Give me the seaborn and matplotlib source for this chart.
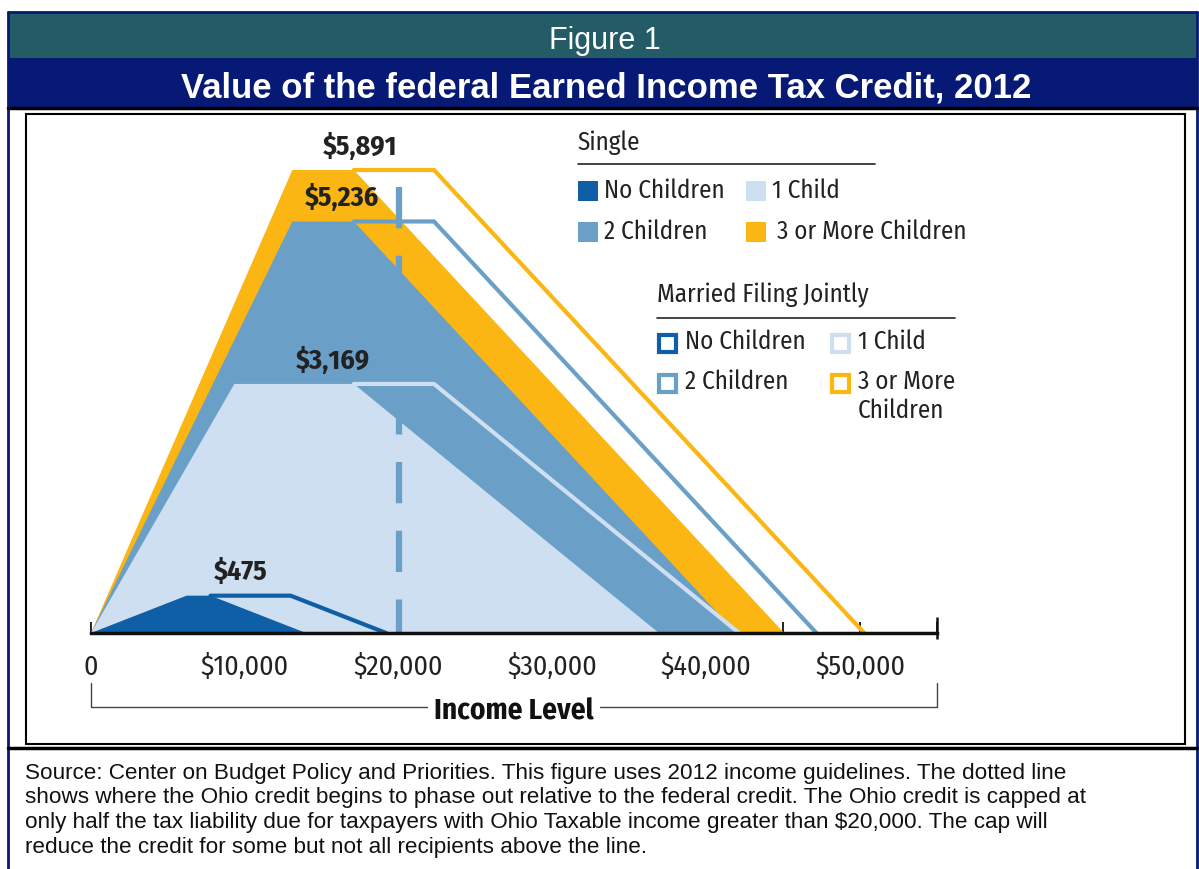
import pandas as pd
import matplotlib.pyplot as plt
from matplotlib.patches import Rectangle
import seaborn as sns

# federal EITC parameters, 2012
groups = ['No Children', '1 Child', '2 Children', '3 or More Children']
max_credit = [475, 3169, 5236, 5891]
phase_in_end = [6210, 9320, 13090, 13090]
phase_out_start_single = [7770, 17090, 17090, 17090]
phase_out_end_single = [13980, 36920, 41952, 45060]
phase_out_start_married = [12980, 22300, 22300, 22300]
phase_out_end_married = [19190, 42130, 47162, 50270]

x_tick_values = [0, 10000, 20000, 30000, 40000, 50000]
x_tick_labels = ['0', '$10,000', '$20,000', '$30,000', '$40,000', '$50,000']
ohio_cap_income = 20000

colors = ['#0f5fa6', '#cddff0', '#6a9fc8', '#fbb614']
married_labels = ['No Children', '1 Child', '2 Children', '3 or More\nChildren']

source_lines = [
    'Source: Center on Budget Policy and Priorities. This figure uses 2012 income guidelines. The dotted line',
    'shows where the Ohio credit begins to phase out relative to the federal credit. The Ohio credit is capped at',
    'only half the tax liability due for taxpayers with Ohio Taxable income greater than $20,000. The cap will',
    'reduce the credit for some but not all recipients above the line.',
]

# label placement (income position of each "$x,xxx" label)
label_x = [9700, 15750, 16300, 17500]

W, H = 1199, 869
sns.set_theme(style='white')
narrow = ['Fira Sans Condensed', 'PT Sans Narrow', 'Asap Condensed', 'DejaVu Sans']
plt.rcParams['font.family'] = ['Liberation Sans', 'DejaVu Sans']

fig = plt.figure(figsize=(W / 100, H / 100), dpi=100)

# overlay in pixel coords for frame, bands, legend and source note
ov = fig.add_axes([0, 0, 1, 1], zorder=0)
ov.set_xlim(0, W)
ov.set_ylim(H, 0)
ov.axis('off')
ov.add_patch(Rectangle((8, 12), 1189, 46, color='#235b67', lw=0))
ov.add_patch(Rectangle((8, 58), 1189, 49, color='#061a75', lw=0))
ov.plot([8, 1197], [12, 12], color='#061a75', lw=2)
ov.plot([8, 8], [12, H], color='#061a75', lw=2)
ov.plot([1197, 1197], [12, H], color='#061a75', lw=2)
ov.plot([8, 1197], [108, 108], color='black', lw=2.5)
ov.plot([8, 1197], [748, 748], color='black', lw=2.5)
ov.add_patch(Rectangle((26, 114), 1159, 630, fill=False, ec='black', lw=1.5))
ov.text(605, 41, 'Figure 1', color='white', fontsize=22, ha='center', va='center')
ov.text(606, 88, 'Value of the federal Earned Income Tax Credit, 2012', color='white',
        fontsize=25, fontweight='bold', ha='center', va='center')
for k, line in enumerate(source_lines):
    ov.text(25, 773 + k * 24.7, line, fontsize=16.2, ha='left', va='center', color='#111111')

# legend: single (filled) and married (outlined)
ov.text(578, 143, 'Single', fontsize=18, family=narrow, va='center', color='#222222')
ov.plot([578, 875], [164, 164], color='#222222', lw=1.2)
ov.text(657, 295, 'Married Filing Jointly', fontsize=18, family=narrow, va='center', color='#222222')
ov.plot([657, 955], [318, 318], color='#222222', lw=1.2)
single_pos = [(578, 191), (746, 191), (578, 232), (746, 232)]
married_pos = [(657, 343), (830, 343), (657, 383), (830, 383)]
for i in range(4):
    sx, sy = single_pos[i]
    ov.add_patch(Rectangle((sx, sy - 10), 20, 20, color=colors[i], lw=0))
    ov.text(sx + 26 + (5 if i == 3 else 0), sy, groups[i], fontsize=18, family=narrow,
            va='center', color='#222222')
    mx, my = married_pos[i]
    ov.add_patch(Rectangle((mx + 1.5, my - 8.5), 17, 17, fill=False, ec=colors[i], lw=3))
    ov.text(mx + 28, my - 14, married_labels[i], fontsize=18, family=narrow,
            va='top', color='#222222', linespacing=1.2)

# chart axes: x 0 -> px 91, 55000 -> px 937, y 0 -> px 633
ymax = 7000
px_per_dollar = 463 / 5891
top_px = 633 - ymax * px_per_dollar
ax = fig.add_axes([91 / W, 1 - 633 / H, 846 / W, (633 - top_px) / H], zorder=1)
ax.patch.set_alpha(0)
ax.set_xlim(0, 55000)
ax.set_ylim(0, ymax)

# single filers: filled trapezoids, largest first
for i in [3, 2, 1, 0]:
    xs = [0, phase_in_end[i], phase_out_start_single[i], phase_out_end_single[i]]
    ys = [0, max_credit[i], max_credit[i], 0]
    ax.fill(xs, ys, color=colors[i], lw=0, zorder=2)

# married filers: outlines of the extended phase-out
rows = []
for i in range(4):
    for k, (xv, yv) in enumerate([(phase_out_start_single[i], max_credit[i]),
                                  (phase_out_start_married[i], max_credit[i]),
                                  (phase_out_end_married[i], 0)]):
        rows.append({'income': xv, 'credit': yv, 'group': groups[i], 'order': k})
married = pd.DataFrame(rows)
sns.lineplot(data=married, x='income', y='credit', hue='group', hue_order=groups,
             palette=colors, sort=False, estimator=None, lw=3, legend=False, ax=ax, zorder=3)
for line in ax.lines:
    line.set_solid_joinstyle('miter')

# Ohio cap line
dash_top = (633 - 187) / px_per_dollar
ax.plot([ohio_cap_income, ohio_cap_income], [dash_top, 0], color='#6a9fc8', lw=4.5,
        dashes=(6.6, 4.4), zorder=4, solid_capstyle='butt')

# value labels
for i in range(4):
    ax.annotate(f'${max_credit[i]:,}', (label_x[i], max_credit[i]), xytext=(0, 17),
                textcoords='offset points', ha='center', va='center', fontsize=20,
                fontweight='bold', family=narrow, color='#222222', zorder=5)

# axis
sns.despine(ax=ax, left=True, top=True, right=True)
ax.spines['bottom'].set_linewidth(2.5)
ax.spines['bottom'].set_color('#111111')
ax.spines['bottom'].set_zorder(6)
ax.set_yticks([])
ax.set_xticks(x_tick_values)
ax.set_xticklabels(x_tick_labels, fontsize=20, family=narrow, color='#222222')
ax.set_xticks(range(5000, 60000, 10000), minor=True)
ax.tick_params(axis='x', which='both', direction='in', length=8, width=1.3, color='#111111',
               bottom=True, pad=15)
ax.vlines([55000], -6 / px_per_dollar, 16 / px_per_dollar, color='#111111', lw=1.8,
          zorder=6, clip_on=False)
ax.set_xlabel('')
ax.set_ylabel('')

# bracket under the axis
ov.plot([91, 91, 427], [683, 707, 707], color='#444444', lw=1)
ov.plot([600, 937, 937], [707, 707, 683], color='#444444', lw=1)
ov.text(514, 712, 'Income Level', fontsize=21, fontweight='bold', family=narrow,
        ha='center', va='center', color='#111111')

fig.savefig('out.png', dpi=100)
